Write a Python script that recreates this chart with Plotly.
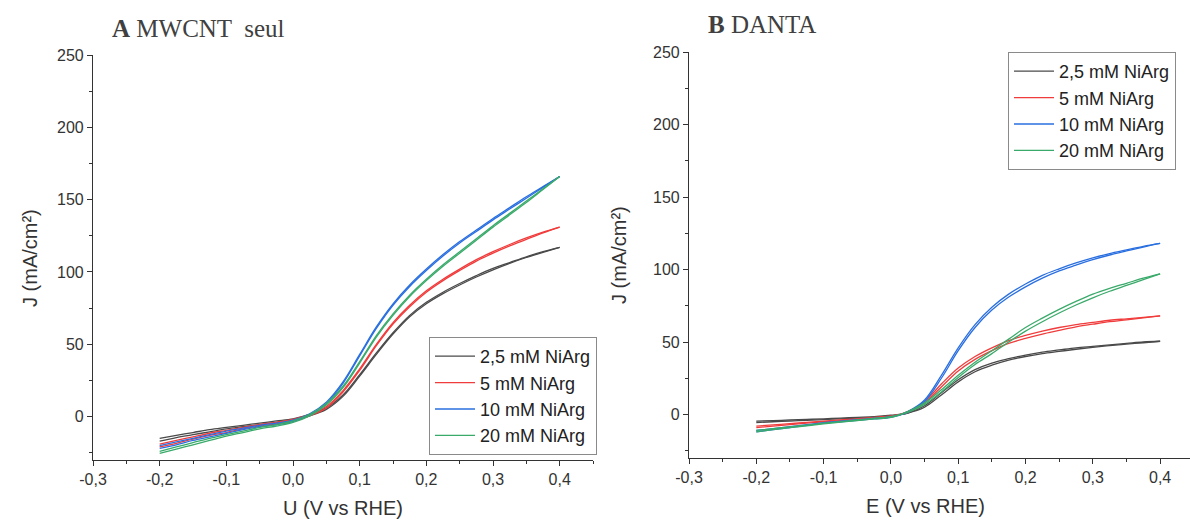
import plotly.graph_objects as go

# ---------------- data ----------------
V = [-0.2, -0.175, -0.15, -0.125, -0.1, -0.075, -0.05, -0.025, 0.0, 0.025, 0.05,
     0.075, 0.1, 0.125, 0.15, 0.175, 0.2, 0.225, 0.25, 0.275, 0.3, 0.325, 0.35,
     0.375, 0.4]

series_names = ["2,5 mM NiArg", "5 mM NiArg", "10 mM NiArg", "20 mM NiArg"]
series_colors = ["#4a4a4a", "#f03c3c", "#2a6fe0", "#3aaa6a"]

# Panel A : MWCNT seul (forward / reverse scans)
A_black_fwd = [-15, -13, -11, -9, -7.5, -6, -4.5, -3, -1.5, 1.5, 6, 15, 29, 44, 58, 70, 79, 86, 92, 97.5, 102.5, 106.5, 110.5, 114, 117]
A_black_rev = [-17, -14.5, -12.5, -10.5, -8.5, -7, -5.5, -4, -2.5, 0.5, 5, 14, 28, 43, 57, 69, 78, 85, 91, 96.5, 101.5, 106, 110, 113.5, 117]
A_red_fwd = [-19, -16.5, -14, -11.5, -9.5, -7.5, -5.5, -4, -2, 1.5, 7, 18, 33, 50, 65, 77, 87, 95, 102, 108.5, 114, 119, 123.5, 127.5, 131]
A_red_rev = [-21, -18.5, -15.5, -13, -11, -8.5, -6.5, -5, -3, 0.5, 6, 17, 32, 49, 64, 76, 86, 94, 101, 107.5, 113, 118, 122.5, 127, 131]
A_blue_fwd = [-20, -17.5, -15, -12.5, -10, -8, -6, -4.5, -2.5, 2, 10, 24, 43, 62, 78, 91, 102, 112, 121, 129, 137, 144.5, 152, 159, 166]
A_blue_rev = [-22, -19.5, -16.5, -14, -11.5, -9, -7, -5.5, -3.5, 1, 9, 23, 42, 61, 77, 90, 101, 111, 120, 128, 136, 143.5, 151, 158.5, 166]
A_green_fwd = [-24, -21, -18, -15, -12.5, -10, -7.5, -5.5, -3, 1.5, 9, 21, 38, 56, 71, 84, 95, 105, 114, 123, 132, 140.5, 149, 157.5, 166]
A_green_rev = [-25.5, -22.5, -19.5, -16.5, -13.5, -11, -8.5, -6.5, -4, 0.5, 8, 20, 37, 55, 70, 83, 94, 104, 113, 122, 131, 139.5, 148, 157, 166]

# Panel B : DANTA (forward / reverse scans)
B_black_fwd = [-5.5, -5, -4.5, -4, -3.5, -3, -2.5, -2, -1, 1, 6, 15, 24, 31, 35.5, 38.5, 41, 43, 44.5, 46, 47, 48, 49, 50, 50.5]
B_black_rev = [-4.5, -4.2, -3.8, -3.4, -3, -2.5, -2, -1.5, -0.5, 1, 5, 13.5, 22.5, 29.5, 34, 37.5, 40, 42, 43.5, 45, 46.3, 47.5, 48.5, 49.5, 50.5]
B_red_fwd = [-9, -8, -7, -6, -5, -4.2, -3.5, -2.5, -1.5, 2, 9, 21, 32, 40, 46, 51, 54.5, 57.5, 60, 62, 63.5, 65, 66, 67, 68]
B_red_rev = [-8, -7.2, -6.3, -5.4, -4.5, -3.7, -3, -2, -1, 1.5, 8, 19, 30, 38, 44, 49, 52.5, 55.5, 58, 60.5, 62.3, 64, 65.3, 66.7, 68]
B_blue_fwd = [-12, -10.5, -9, -7.5, -6, -5, -4, -3, -2, 2, 10, 27, 46, 62, 74, 83, 90, 96, 100.5, 104.5, 108, 111, 113.5, 116, 118]
B_blue_rev = [-11, -9.7, -8.3, -7, -5.6, -4.6, -3.6, -2.6, -1.5, 1.5, 9, 25, 44, 60, 72, 81, 88, 94, 99, 103, 106.8, 110, 112.8, 115.5, 118]
B_green_fwd = [-12, -10.5, -9, -7.8, -6.5, -5.3, -4.2, -3, -2, 2, 8, 17, 27, 36, 44, 52, 60, 66.5, 72.5, 78, 83, 87, 90.5, 94, 97]
B_green_rev = [-11, -9.8, -8.5, -7.3, -6, -4.9, -3.8, -2.7, -1.5, 1.5, 7, 15.5, 25.5, 34.5, 42, 50, 57.5, 64, 70, 75.5, 80.5, 85, 89, 93, 97]

A_fwd = [A_black_fwd, A_red_fwd, A_blue_fwd, A_green_fwd]
A_rev = [A_black_rev, A_red_rev, A_blue_rev, A_green_rev]
B_fwd = [B_black_fwd, B_red_fwd, B_blue_fwd, B_green_fwd]
B_rev = [B_black_rev, B_red_rev, B_blue_rev, B_green_rev]

x_tickvals = [-0.3, -0.2, -0.1, 0.0, 0.1, 0.2, 0.3, 0.4]
x_ticktext = ["-0,3", "-0,2", "-0,1", "0,0", "0,1", "0,2", "0,3", "0,4"]
x_minor = [-0.25, -0.15, -0.05, 0.05, 0.15, 0.25, 0.35, 0.45]
y_tickvals = [0, 50, 100, 150, 200, 250]
y_ticktext = ["0", "50", "100", "150", "200", "250"]
y_minor = [-25, 25, 75, 125, 175, 225]

titles = ["<b>A</b> MWCNT  seul", "<b>B</b> DANTA"]
x_titles = ["U (V vs RHE)", "E (V vs RHE)"]
y_title = "J (mA/cm²)"

# ---------------- figure ----------------
fig = go.Figure()

panels = [(A_fwd, A_rev, "x", "y", "legend"), (B_fwd, B_rev, "x2", "y2", "legend2")]
for fwd, rev, xa, ya, lg in panels:
    for i, name in enumerate(series_names):
        fig.add_trace(go.Scatter(
            x=V, y=fwd[i], mode="lines", name=name,
            line=dict(color=series_colors[i], width=1.3, shape="spline", smoothing=1.0),
            xaxis=xa, yaxis=ya, legend=lg, legendgroup=lg + name, showlegend=True))
        fig.add_trace(go.Scatter(
            x=V, y=rev[i], mode="lines", name=name,
            line=dict(color=series_colors[i], width=1.3, shape="spline", smoothing=1.0),
            xaxis=xa, yaxis=ya, legend=lg, legendgroup=lg + name, showlegend=False))

W, H = 1190, 522
axis_common = dict(
    showline=True, linecolor="#333333", linewidth=1.2,
    ticks="outside", ticklen=5, tickwidth=1.2, tickcolor="#333333",
    showgrid=False, zeroline=False, mirror=False,
    tickfont=dict(family="Liberation Sans, Arial", size=16, color="#333333"),
    automargin=False,
)
legend_common = dict(
    xanchor="right", yanchor="top",
    bgcolor="white", bordercolor="#8a8a8a", borderwidth=1,
    font=dict(family="Liberation Sans, Arial", size=18, color="#222222"),
    tracegroupgap=0, itemwidth=40,
)

fig.update_layout(
    width=W, height=H,
    margin=dict(l=0, r=0, t=0, b=0),
    paper_bgcolor="white", plot_bgcolor="white",
    xaxis=dict(domain=[93 / W, 593 / W], range=[-0.3, 0.45], anchor="y",
               tickmode="array", tickvals=x_tickvals, ticktext=x_ticktext,
               minor=dict(tickvals=x_minor, ticks="outside", ticklen=3, tickcolor="#333333"),
               **axis_common),
    yaxis=dict(domain=[(H - 460) / H, (H - 55) / H], range=[-30, 250], anchor="x",
               tickmode="array", tickvals=y_tickvals, ticktext=y_ticktext,
               minor=dict(tickvals=y_minor, ticks="outside", ticklen=3, tickcolor="#333333"),
               **axis_common),
    xaxis2=dict(domain=[689 / W, 1.0], range=[-0.3, 0.4444], anchor="y2",
                tickmode="array", tickvals=x_tickvals, ticktext=x_ticktext,
                minor=dict(tickvals=x_minor[:-1], ticks="outside", ticklen=3, tickcolor="#333333"),
                **axis_common),
    yaxis2=dict(domain=[(H - 458) / H, (H - 52) / H], range=[-30, 250], anchor="x2",
                tickmode="array", tickvals=y_tickvals, ticktext=y_ticktext,
                minor=dict(tickvals=y_minor, ticks="outside", ticklen=3, tickcolor="#333333"),
                **axis_common),
    legend=dict(x=597 / W, y=(H - 337) / H, **legend_common),
    legend2=dict(x=1176 / W, y=(H - 52) / H, **legend_common),
    showlegend=True,
)

annotations = [
    dict(text=titles[0], x=110 / W, y=(H - 28) / H, xref="paper", yref="paper",
         xanchor="left", yanchor="middle", showarrow=False,
         font=dict(family="Liberation Serif, Times New Roman", size=25, color="#404040")),
    dict(text=titles[1], x=706 / W, y=(H - 25) / H, xref="paper", yref="paper",
         xanchor="left", yanchor="middle", showarrow=False,
         font=dict(family="Liberation Serif, Times New Roman", size=25, color="#404040")),
    dict(text=x_titles[0], x=343 / W, y=(H - 508) / H, xref="paper", yref="paper",
         xanchor="center", yanchor="middle", showarrow=False,
         font=dict(family="Liberation Sans, Arial", size=20, color="#333333")),
    dict(text=x_titles[1], x=925 / W, y=(H - 506) / H, xref="paper", yref="paper",
         xanchor="center", yanchor="middle", showarrow=False,
         font=dict(family="Liberation Sans, Arial", size=20, color="#333333")),
    dict(text=y_title, x=30 / W, y=(H - 258) / H, xref="paper", yref="paper",
         xanchor="center", yanchor="middle", showarrow=False, textangle=-90,
         font=dict(family="Liberation Sans, Arial", size=20, color="#333333")),
    dict(text=y_title, x=619 / W, y=(H - 255) / H, xref="paper", yref="paper",
         xanchor="center", yanchor="middle", showarrow=False, textangle=-90,
         font=dict(family="Liberation Sans, Arial", size=20, color="#333333")),
]
fig.update_layout(annotations=annotations)

fig.write_html("out.html", config={"displayModeBar": False},
               post_script="document.body.style.margin='0px';")
